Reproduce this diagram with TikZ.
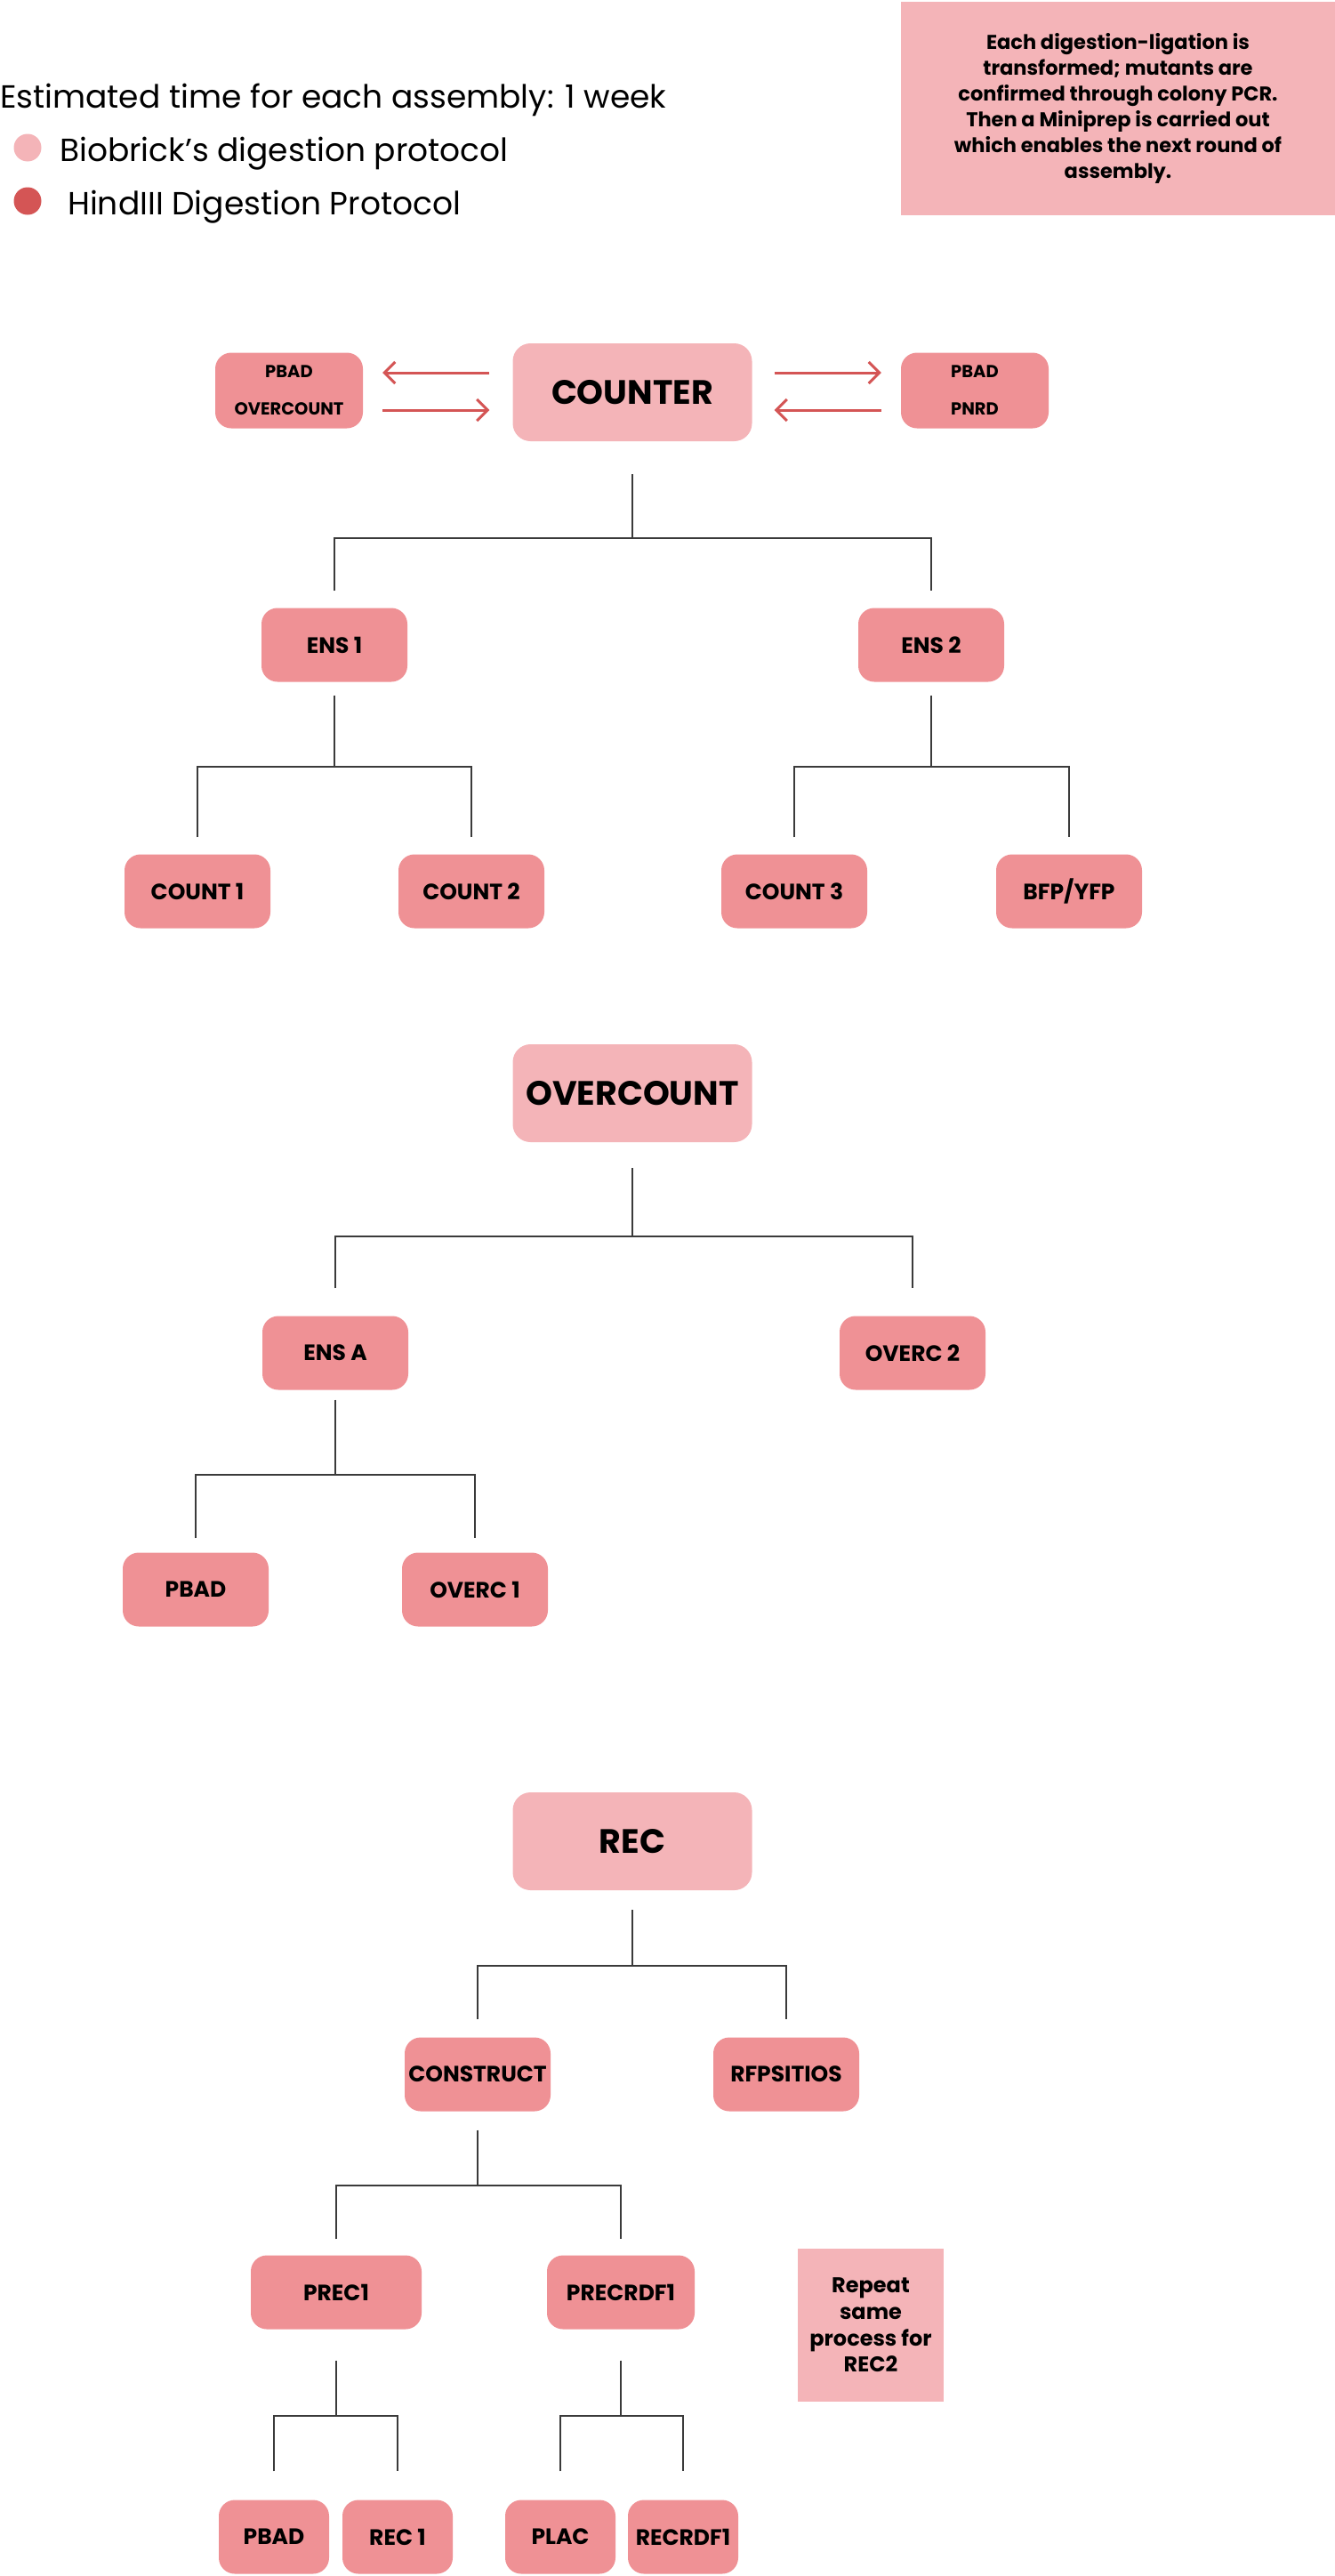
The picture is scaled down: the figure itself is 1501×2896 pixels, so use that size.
\documentclass[tikz,border=0pt]{standalone}
\usepackage{fontspec}
\setmainfont{Poppins}
\usetikzlibrary{arrows.meta}

\definecolor{lightrose}{HTML}{F4B4B8}
\definecolor{rose}{HTML}{EF9195}
\definecolor{darkrose}{HTML}{D45555}
\definecolor{treegray}{HTML}{3A3A3A}

\tikzset{
  bigbox/.style={fill=lightrose, rounded corners=20pt, minimum width=269pt, minimum height=110pt,
    font=\bfseries\fontsize{38}{42}\selectfont},
  partbox/.style={fill=rose, rounded corners=18pt, minimum width=164pt, minimum height=83pt,
    inner sep=2pt, font=\bfseries\fontsize{25}{29}\selectfont},
  pairbox/.style={fill=rose, rounded corners=18pt, minimum width=166pt, minimum height=85pt,
    align=center, font=\bfseries\fontsize{19.5}{42}\selectfont},
  notebox/.style={fill=lightrose, align=center, inner sep=0pt},
  legend/.style={anchor=west, inner sep=0pt, font=\fontsize{36}{40}\selectfont},
  dot/.style={circle, minimum size=31pt, inner sep=0pt},
  tree/.style={draw=treegray, line width=2pt},
  swap/.style={draw=darkrose, line width=3pt, -{Straight Barb[length=12pt, width=24pt, line width=3pt]}},
}

\begin{document}
\begin{tikzpicture}[x=1pt, y=-1pt]

  \useasboundingbox (0,0) rectangle (1501,2896);

  % legend
  \node[legend] (time) at (0,112) {Estimated time for each assembly: 1 week};
  \node[dot, fill=lightrose] (dotbio) at (31,166) {};
  \node[legend] (bio) at (67,173) {Biobrick’s digestion protocol};
  \node[dot, fill=darkrose] (dothind) at (31,226) {};
  \node[legend] (hind) at (76,233) {HindIII Digestion Protocol};

  \node[notebox, minimum width=488pt, minimum height=240pt,
        font=\bfseries\fontsize{22.5}{29}\selectfont] (note) at (1257,122)
        {Each digestion-ligation is\\transformed; mutants are\\confirmed through colony PCR.\\
         Then a Miniprep is carried out\\which enables the next round of\\assembly.};

  % counter
  \node[bigbox] (counter) at (711,441) {COUNTER};
  \node[pairbox] (pbadover) at (325,439) {PBAD\\OVERCOUNT};
  \node[pairbox] (pbadpnrd) at (1096,439) {PBAD\\PNRD};

  \draw[swap] ([xshift=-26pt, yshift=22pt]counter.west) -- ([xshift=22pt, yshift=20pt]pbadover.east);
  \draw[swap] ([xshift=22pt, yshift=-22pt]pbadover.east) -- ([xshift=-26pt, yshift=-20pt]counter.west);
  \draw[swap] ([xshift=25pt, yshift=22pt]counter.east) -- ([xshift=-22pt, yshift=20pt]pbadpnrd.west);
  \draw[swap] ([xshift=-22pt, yshift=-22pt]pbadpnrd.west) -- ([xshift=25pt, yshift=-20pt]counter.east);

  \node[partbox] (ens1) at (376,725) {ENS 1};
  \node[partbox] (ens2) at (1047,725) {ENS 2};
  \node[partbox] (count1) at (222,1002) {COUNT 1};
  \node[partbox] (count2) at (530,1002) {COUNT 2};
  \node[partbox] (count3) at (893,1002) {COUNT 3};
  \node[partbox] (bfp) at (1202,1002) {BFP/YFP};

  \coordinate (j1) at (711,605);
  \coordinate (j2) at (376,862);
  \coordinate (j3) at (1047,862);
  \draw[tree] ([yshift=-37pt]counter.south) -- (j1);
  \draw[tree] ([yshift=19pt]ens1.north) |- (j1) -| ([yshift=19pt]ens2.north);
  \draw[tree] ([yshift=-15pt]ens1.south) -- (j2);
  \draw[tree] ([yshift=19pt]count1.north) |- (j2) -| ([yshift=19pt]count2.north);
  \draw[tree] ([yshift=-15pt]ens2.south) -- (j3);
  \draw[tree] ([yshift=19pt]count3.north) |- (j3) -| ([yshift=19pt]bfp.north);

  % overcount
  \node[bigbox] (overcount) at (711,1229) {OVERCOUNT};
  \node[partbox] (ensa) at (377,1521) {ENS A};
  \node[partbox] (overc2) at (1026,1521) {OVERC 2};
  \node[partbox] (pbadone) at (220,1787) {PBAD};
  \node[partbox] (overc1) at (534,1787) {OVERC 1};

  \coordinate (j4) at (711,1390);
  \coordinate (j5) at (377,1658);
  \draw[tree] ([yshift=-29pt]overcount.south) -- (j4);
  \draw[tree] ([yshift=31pt]ensa.north) |- (j4) -| ([yshift=31pt]overc2.north);
  \draw[tree] ([yshift=-11pt]ensa.south) -- (j5);
  \draw[tree] ([yshift=16pt]pbadone.north) |- (j5) -| ([yshift=16pt]overc1.north);

  % rec
  \node[bigbox] (rec) at (711,2070) {REC};
  \node[partbox] (construct) at (537,2332) {CONSTRUCT};
  \node[partbox] (rfp) at (884,2332) {RFPSITIOS};
  \node[partbox, minimum width=192pt] (prec1) at (378,2577) {PREC1};
  \node[partbox, minimum width=166pt] (precrdf1) at (698,2577) {PRECRDF1};
  \node[partbox, minimum width=124pt] (pbadtwo) at (308,2852) {PBAD};
  \node[partbox, minimum width=124pt] (rec1) at (447,2852) {REC 1};
  \node[partbox, minimum width=124pt] (plac) at (630,2852) {PLAC};
  \node[partbox, minimum width=124pt] (recrdf1) at (768,2852) {RECRDF1};

  \node[notebox, minimum width=164pt, minimum height=172pt,
        font=\bfseries\fontsize{24}{29.6}\selectfont] (repeat) at (979,2614)
        {Repeat\\same\\process for\\REC2};

  \coordinate (j6) at (711,2210);
  \coordinate (j7) at (537,2457);
  \coordinate (j8) at (378,2716);
  \coordinate (j9) at (698,2716);
  \draw[tree] ([yshift=-22pt]rec.south) -- (j6);
  \draw[tree] ([yshift=20pt]construct.north) |- (j6) -| ([yshift=20pt]rfp.north);
  \draw[tree] ([yshift=-21pt]construct.south) -- (j7);
  \draw[tree] ([yshift=18pt]prec1.north) |- (j7) -| ([yshift=18pt]precrdf1.north);
  \draw[tree] ([yshift=-35pt]prec1.south) -- (j8);
  \draw[tree] ([yshift=32pt]pbadtwo.north) |- (j8) -| ([yshift=32pt]rec1.north);
  \draw[tree] ([yshift=-35pt]precrdf1.south) -- (j9);
  \draw[tree] ([yshift=32pt]plac.north) |- (j9) -| ([yshift=32pt]recrdf1.north);

\end{tikzpicture}
\end{document}
